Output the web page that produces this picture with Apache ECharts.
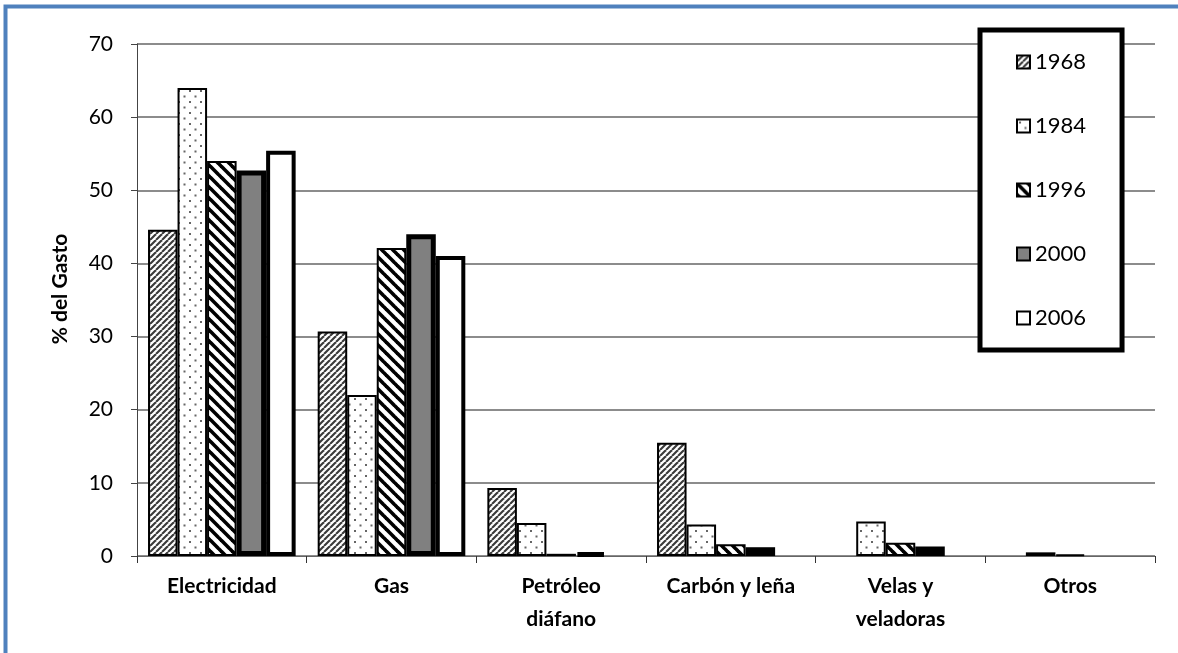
<!DOCTYPE html>
<html>
<head>
<meta charset="utf-8">
<script src="https://cdn.jsdelivr.net/npm/echarts@6/dist/echarts.min.js"></script>
<style>
  html, body { margin: 0; padding: 0; background: #fff; }
  #chart { width: 1178px; height: 653px; }
</style>
</head>
<body>
<div id="chart"></div>
<script>
// categorias y valores (% del gasto)
const categories = ['Electricidad', 'Gas', 'Petróleo\ndiáfano', 'Carbón y leña', 'Velas y\nveladoras', 'Otros']
const years = ['1968', '1984', '1996', '2000', '2006']
const y1968 = [44.6, 30.7, 9.3, 15.5, 0, 0]
const y1984 = [64.0, 22.0, 4.5, 4.3, 4.7, 0.5]
const y1996 = [54.0, 42.1, 0.3, 1.6, 1.8, 0.2]
const y2000 = [52.7, 44.0, 0.4, 1.2, 1.3, 0]
const y2006 = [55.4, 41.0, 0, 0, 0, 0]
const yTicks = { min: 0, max: 70, interval: 10 }

const FONT = 'Lato, "Noto Sans", sans-serif'

// rellenos con tramas
function makePattern (w, h, draw) {
  const c = document.createElement('canvas')
  c.width = w
  c.height = h
  const ctx = c.getContext('2d')
  ctx.fillStyle = '#fff'
  ctx.fillRect(0, 0, w, h)
  draw(ctx)
  return { image: c, repeat: 'repeat' }
}

// diagonal "/" gris
const hatchFwd = makePattern(6, 6, ctx => {
  ctx.strokeStyle = '#3a3a3a'
  ctx.lineWidth = 2.1
  ;[-6, 0, 6].forEach(k => {
    ctx.beginPath(); ctx.moveTo(k, 6); ctx.lineTo(k + 6, 0); ctx.stroke()
  })
})

// puntos
const dots = makePattern(11, 11, ctx => {
  ctx.fillStyle = '#666'
  ctx.fillRect(2, 2, 2, 2)
  ctx.fillRect(7.5, 7.5, 2, 2)
})

// diagonal "\" negra gruesa
const hatchBack = makePattern(11, 11, ctx => {
  ctx.strokeStyle = '#000'
  ctx.lineWidth = 3.6
  ;[-11, 0, 11].forEach(k => {
    ctx.beginPath(); ctx.moveTo(k - 1, -1); ctx.lineTo(k + 12, 12); ctx.stroke()
  })
})

const styles = [
  { color: hatchFwd, borderColor: '#000', borderWidth: 2 },
  { color: dots, borderColor: '#000', borderWidth: 2 },
  { color: hatchBack, borderColor: '#000', borderWidth: 2 },
  { color: '#808080', borderColor: '#000', borderWidth: 5 },
  { color: '#fff', borderColor: '#000', borderWidth: 4 }
]
const values = [y1968, y1984, y1996, y2000, y2006]

const chart = echarts.init(document.getElementById('chart'))
chart.setOption({
  animation: false,
  backgroundColor: '#fff',
  graphic: [{
    type: 'rect',
    shape: { x: 5.5, y: 6.5, width: 1400, height: 1000 },
    style: { fill: null, stroke: '#4f81bd', lineWidth: 4 },
    silent: true
  }],
  grid: { left: 137, right: 23, top: 44, bottom: 97 },
  legend: {
    orient: 'vertical',
    left: 980,
    top: 30,
    padding: [20, 36, 20, 36],
    borderColor: '#000',
    borderWidth: 5,
    backgroundColor: '#fff',
    itemWidth: 13,
    itemHeight: 13,
    itemGap: 40,
    icon: 'rect',
    textStyle: { fontFamily: FONT, fontSize: 22, color: '#000', lineHeight: 24 },
    data: years
  },
  xAxis: {
    type: 'category',
    data: categories,
    axisLine: { lineStyle: { color: '#666', width: 1 } },
    axisTick: { show: true, length: 7, lineStyle: { color: '#333' } },
    axisLabel: {
      margin: 14,
      fontFamily: FONT,
      fontWeight: 'bold',
      fontSize: 21,
      color: '#000',
      lineHeight: 33
    }
  },
  yAxis: {
    type: 'value',
    min: yTicks.min,
    max: yTicks.max,
    interval: yTicks.interval,
    name: '% del Gasto',
    nameLocation: 'middle',
    nameGap: 66,
    nameTextStyle: { fontFamily: FONT, fontWeight: 'bold', fontSize: 21, color: '#000', padding: [0, 0, 0, 22] },
    axisLine: { show: true, lineStyle: { color: '#444', width: 1 } },
    axisTick: { show: true, length: 6, lineStyle: { color: '#444' } },
    axisLabel: { margin: 24, fontFamily: FONT, fontSize: 21, color: '#000' },
    splitLine: { lineStyle: { color: '#8c8c8c', width: 2 } }
  },
  series: years.map((y, i) => ({
    name: y,
    type: 'bar',
    // las barras en cero no se dibujan
    data: values[i].map(v => (v === 0 ? null : v)),
    barGap: '0%',
    barCategoryGap: '13%',
    itemStyle: styles[i]
  }))
})
</script>
</body>
</html>
